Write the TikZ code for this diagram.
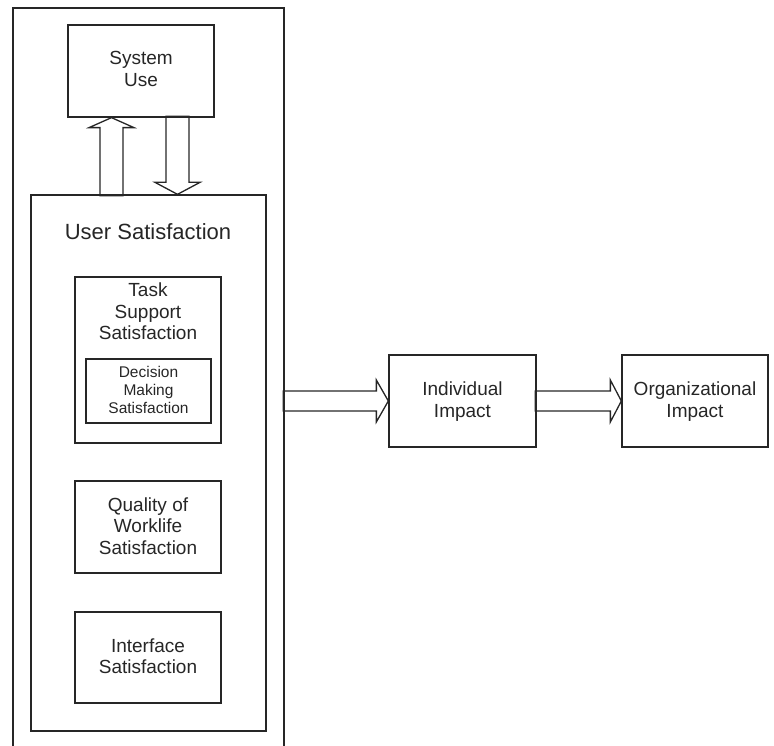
\documentclass[tikz,border=0pt]{standalone}
\usepackage{fontspec}
\setmainfont{Liberation Sans}
\begin{document}
\begin{tikzpicture}[x=1pt,y=-1pt,
  line/.style={draw=black!85,line width=1.3pt,line join=miter},
  box/.style={line,rectangle,inner sep=0pt},
  txt/.style={align=center,inner sep=0pt,text=black!85,font=\fontsize{19}{21.5}\selectfont},
  smalltxt/.style={align=center,inner sep=0pt,text=black!85,font=\fontsize{15.5}{18}\selectfont},
  bigtxt/.style={inner sep=0pt,text=black!85,font=\fontsize{22}{26}\selectfont},
  blockarrow/.style={line}]
\useasboundingbox (0,0) rectangle (774,746);
% outer frame (open at the bottom)
\draw[line] (13,746) -- (13,8) -- (284,8) -- (284,746);
% boxes
\node[box,minimum width=146pt,minimum height=92pt] (sys) at (141,71) {};
\node[txt] (systxt) at (141,69) {System\\Use};
\node[box,minimum width=235pt,minimum height=536pt] (us) at (148.5,463) {};
\node[bigtxt] (ustxt) at (148,232) {User Satisfaction};
\node[box,minimum width=146pt,minimum height=166pt] (task) at (148,360) {};
\node[txt] (tasktxt) at (148,311.5) {Task\\Support\\Satisfaction};
\node[box,minimum width=125pt,minimum height=64pt] (dec) at (148.5,391) {};
\node[smalltxt] (dectxt) at (148.5,390) {Decision\\Making\\Satisfaction};
\node[box,minimum width=146pt,minimum height=92pt] (qual) at (148,527) {};
\node[txt] (qualtxt) at (148,526) {Quality of\\Worklife\\Satisfaction};
\node[box,minimum width=146pt,minimum height=91pt] (intf) at (148,657.5) {};
\node[txt] (intftxt) at (148,656) {Interface\\Satisfaction};
\node[box,minimum width=147pt,minimum height=92pt] (ind) at (462.5,401) {};
\node[txt] (indtxt) at (462.5,401.5) {Individual\\Impact};
\node[box,minimum width=146pt,minimum height=92pt] (org) at (695,401) {};
\node[txt] (orgtxt) at (695,401.5) {Organizational\\Impact};
% block arrows
\coordinate (upTip) at ([xshift=-29.5pt]sys.south);
\draw[blockarrow] (upTip) -- ++(22.5,10) -- ++(-11,0) -- ++(0,68) -- ++(-23,0) -- ++(0,-68) -- ++(-11,0) -- cycle;
\coordinate (dnTip) at ([xshift=29pt]us.north);
\draw[blockarrow] (dnTip) -- ++(22.5,-12) -- ++(-11,0) -- ++(0,-66) -- ++(-23,0) -- ++(0,66) -- ++(-11,0) -- cycle;
\draw[blockarrow] (ind.west) -- ++(-12,-21) -- ++(0,11) -- ++(-93,0) -- ++(0,20) -- ++(93,0) -- ++(0,11) -- cycle;
\draw[blockarrow] (org.west) -- ++(-11,-21) -- ++(0,11) -- ++(-75,0) -- ++(0,20) -- ++(75,0) -- ++(0,11) -- cycle;
\end{tikzpicture}
\end{document}
